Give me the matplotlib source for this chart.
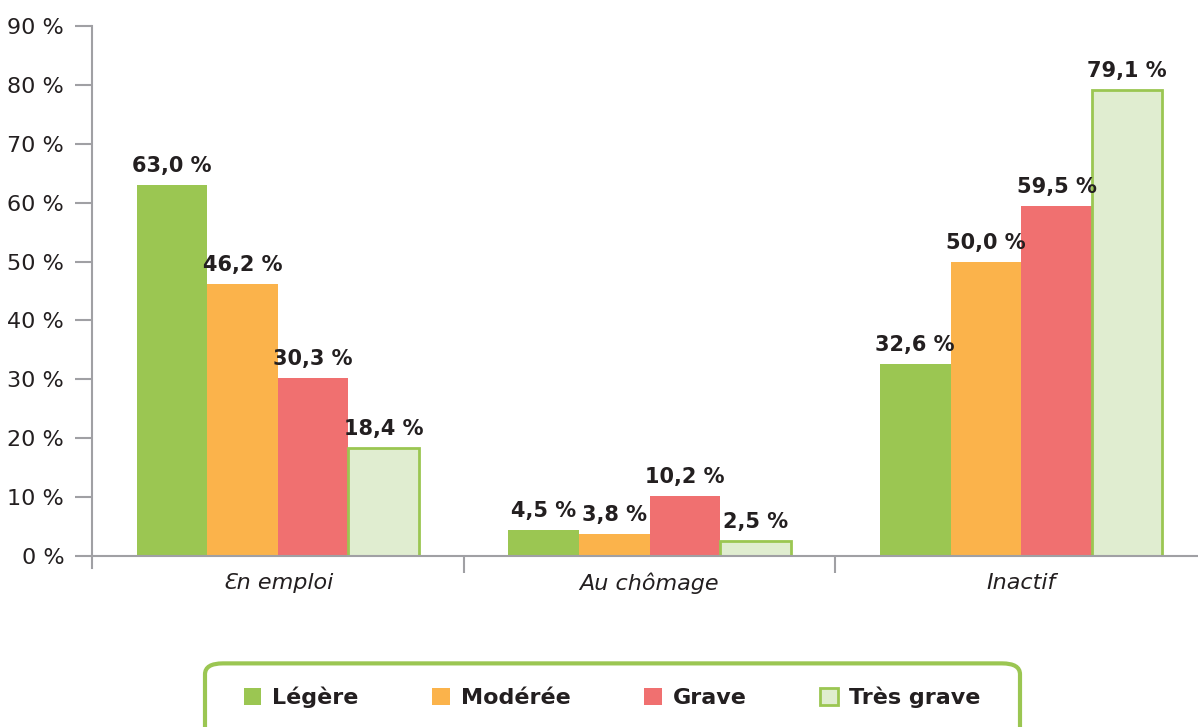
import numpy as np
import matplotlib.pyplot as plt
from matplotlib.patches import FancyBboxPatch

categories = ['Ɛn emploi', 'Au chômage', 'Inactif']
series = ['Légère', 'Modérée', 'Grave', 'Très grave']
legere = [63.0, 4.5, 32.6]
moderee = [46.2, 3.8, 50.0]
grave = [30.3, 10.2, 59.5]
tres_grave = [18.4, 2.5, 79.1]

values = [legere, moderee, grave, tres_grave]
colors = ['#9BC652', '#FBB34B', '#F07070', '#E0EDD0']
edges = ['#9BC652', '#FBB34B', '#F07070', '#9BC652']

plt.rcParams['font.family'] = ['DejaVu Sans Condensed', 'DejaVu Sans']

fig = plt.figure(figsize=(11.98, 7.27), dpi=100)
# axes from x=92 to 1207 px, y=26 to 556 px
ax = fig.add_axes([92 / 1198, 1 - 556 / 727, 1115 / 1198, 530 / 727])

x = np.arange(len(categories))
w = 0.19
for i, (vals, c, e) in enumerate(zip(values, colors, edges)):
    pos = x + (i - 1.5) * w
    lw = 2 if i == 3 else 0
    bars = ax.bar(pos, vals, w, color=c, edgecolor=e, linewidth=lw, label=series[i])
    for b, v in zip(bars, vals):
        ax.text(b.get_x() + b.get_width() / 2, v + 1.5, f'{v:.1f} %'.replace('.', ','),
                ha='center', va='bottom', fontsize=15, fontweight='semibold', color='#231F20')

ax.set_xlim(-0.5, 2.5)
ax.set_ylim(0, 90)
ax.set_yticks(range(0, 91, 10))
ax.set_yticklabels([f'{t} %' for t in range(0, 91, 10)], fontsize=16, color='#231F20')
ax.set_xticks([0.5, 1.5])
ax.set_xticklabels([])
ax.set_xticks(x, minor=True)
ax.set_xticklabels(categories, minor=True, fontsize=16, style='italic', color='#231F20')
ax.tick_params(axis='x', which='minor', length=0, pad=12)
ax.tick_params(axis='x', which='major', length=12, width=1.5, color='#A0A0A4')
ax.tick_params(axis='y', length=12, width=1.5, color='#A0A0A4', pad=8)

for s in ['top', 'right']:
    ax.spines[s].set_visible(False)
for s in ['left', 'bottom']:
    ax.spines[s].set_color('#A0A0A4')
    ax.spines[s].set_linewidth(1.5)

ax.plot([-0.5, -0.5], [0, -2.1], color='#A0A0A4', lw=1.5, clip_on=False)

# legend box
box = FancyBboxPatch((205 / 1198, -0.05), 815 / 1198, 0.1375,
                     boxstyle='round,pad=0,rounding_size=0.015',
                     transform=fig.transFigure, facecolor='white',
                     edgecolor='#9BC652', linewidth=3)
fig.patches.append(box)
handles, labels = ax.get_legend_handles_labels()
leg = fig.legend(handles, labels, ncol=4, loc='center', bbox_to_anchor=(612 / 1198, 1 - 697 / 727),
                 frameon=False, fontsize=16, handlelength=0.8, handleheight=0.8,
                 columnspacing=3.3, handletextpad=0.5)
for t in leg.get_texts():
    t.set_fontweight('semibold')
    t.set_color('#231F20')

fig.savefig('out.png', dpi=100)
